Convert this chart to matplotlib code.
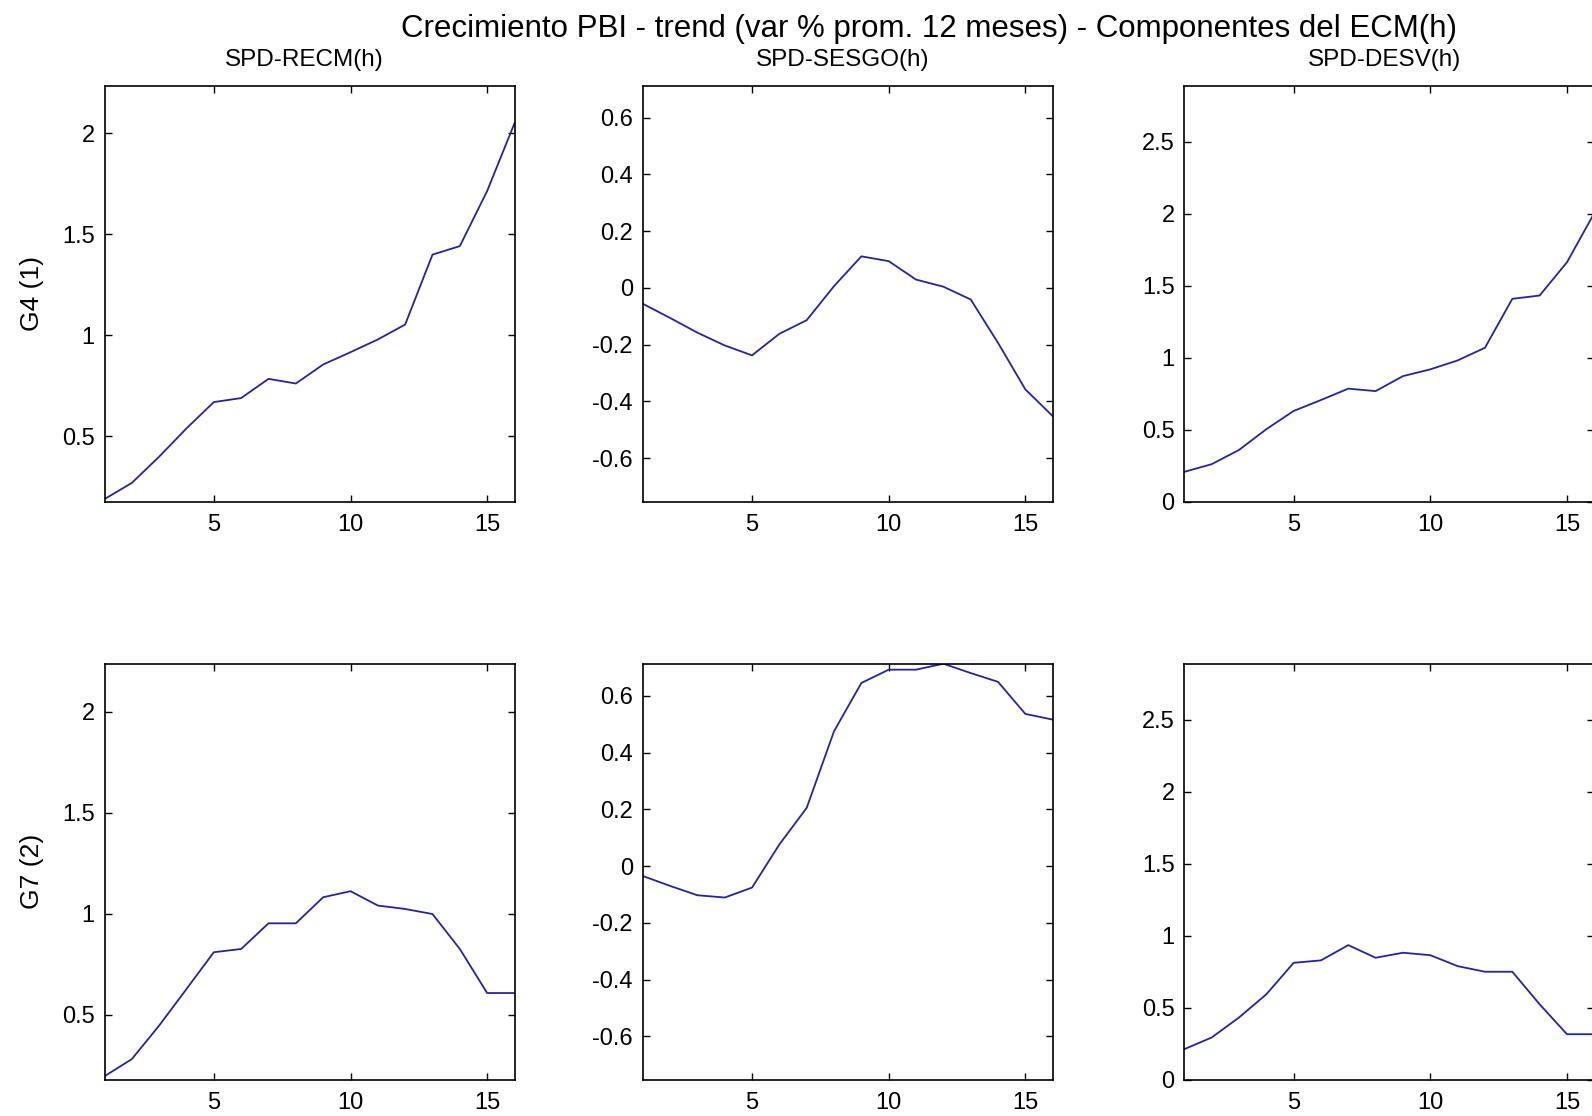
import matplotlib
matplotlib.use("Agg")
import matplotlib.pyplot as plt
from matplotlib.ticker import FuncFormatter

plt.rcParams['font.family'] = ['Liberation Sans', 'DejaVu Sans']

# horizon h = 1..16
horizon = list(range(1, 17))

titulo = 'Crecimiento PBI - trend (var % prom. 12 meses) - Componentes del ECM(h)'
col_titles = ['SPD-RECM(h)', 'SPD-SESGO(h)', 'SPD-DESV(h)']
row_labels = ['G4 (1)', 'G7 (2)']

# G4 (1)
g4_recm = [0.19, 0.27, 0.40, 0.54, 0.67, 0.69, 0.785, 0.762, 0.856, 0.917,
           0.98, 1.054, 1.40, 1.442, 1.715, 2.05]
g4_sesgo = [-0.056, -0.106, -0.158, -0.203, -0.238, -0.162, -0.114, 0.006,
            0.111, 0.094, 0.029, 0.004, -0.041, -0.194, -0.358, -0.452]
g4_desv = [0.206, 0.259, 0.358, 0.502, 0.629, 0.705, 0.784, 0.767, 0.871,
           0.918, 0.98, 1.068, 1.408, 1.431, 1.662, 2.004]

# G7 (2)
g7_recm = [0.195, 0.28, 0.446, 0.627, 0.809, 0.825, 0.952, 0.952, 1.081,
           1.111, 1.04, 1.023, 0.998, 0.825, 0.607, 0.607]
g7_sesgo = [-0.035, -0.070, -0.103, -0.111, -0.076, 0.076, 0.205, 0.475,
            0.645, 0.692, 0.692, 0.713, 0.68, 0.649, 0.536, 0.516]
g7_desv = [0.212, 0.293, 0.432, 0.593, 0.812, 0.829, 0.935, 0.847, 0.882,
           0.865, 0.789, 0.75, 0.75, 0.524, 0.316, 0.316]

series = [[g4_recm, g4_sesgo, g4_desv],
          [g7_recm, g7_sesgo, g7_desv]]

# per column: y limits and y ticks
ylims = [(0.178, 2.237), (-0.753, 0.713), (0.0, 2.89)]
yticks = [[0.5, 1, 1.5, 2],
          [-0.6, -0.4, -0.2, 0, 0.2, 0.4, 0.6],
          [0, 0.5, 1, 1.5, 2, 2.5]]

W, H = 1592, 1116
fig = plt.figure(figsize=(W / 100, H / 100), dpi=100)
fig.patch.set_facecolor('white')

col_left = [104.5, 642.7, 1184.3]
row_top = [85.5, 663.7]
ax_w, ax_h = 410.0, 416.0

fmt = FuncFormatter(lambda v, p: '%g' % round(v, 2))

for r in range(2):
    for c in range(3):
        left = col_left[c] / W
        bottom = 1 - (row_top[r] + ax_h) / H
        ax = fig.add_axes([left, bottom, ax_w / W, ax_h / H])
        ax.plot(horizon, series[r][c], color='#2424a0', lw=1.3)
        ax.set_xlim(1, 16)
        ax.set_ylim(*ylims[c])
        ax.set_xticks([5, 10, 15])
        ax.set_yticks(yticks[c])
        ax.yaxis.set_major_formatter(fmt)
        ax.tick_params(direction='in', top=True, right=True, length=5,
                       width=1, labelsize=17, colors='black')
        ax.tick_params(axis='x', pad=9)
        ax.tick_params(axis='y', pad=7)
        for sp in ax.spines.values():
            sp.set_linewidth(1.2)
        if c == 0:
            yc = 1 - (row_top[r] + ax_h / 2) / H
            fig.text(32 / W, yc, row_labels[r], rotation=90, fontsize=19,
                     ha='center', va='center')
        if r == 0:
            xc = (col_left[c] + ax_w / 2 - 5) / W
            fig.text(xc, 1 - 66 / H, col_titles[c], fontsize=17.5,
                     ha='center', va='baseline')

fig.text(929 / W, 1 - 37 / H, titulo, fontsize=22.5, ha='center', va='baseline')

fig.savefig('out.png', dpi=100)
